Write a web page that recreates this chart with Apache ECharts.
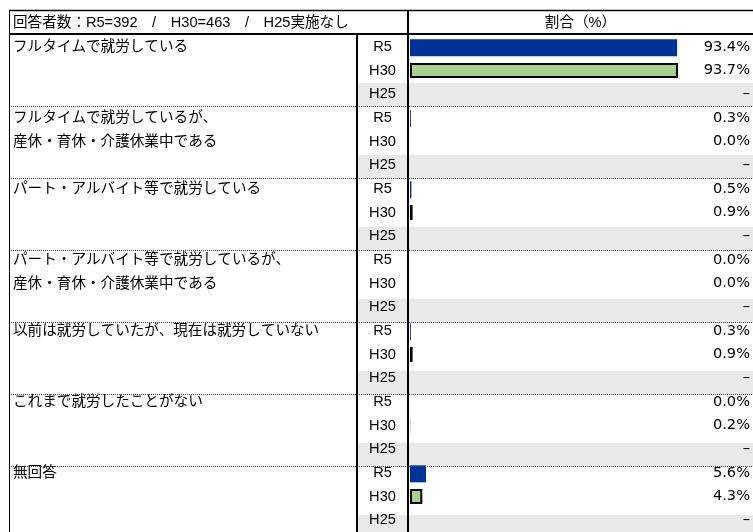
<!DOCTYPE html>
<html>
<head>
<meta charset="utf-8">
<script src="https://cdn.jsdelivr.net/npm/echarts@6/dist/echarts.min.js"></script>
<style>
html,body{margin:0;padding:0;background:#fff;}
#chart{width:753px;height:532px;}
</style>
</head>
<body>
<div id="chart"></div>
<script>
// ---- data ----
const groupLabels = [
  'フルタイムで就労している',
  'フルタイムで就労しているが、\n産休・育休・介護休業中である',
  'パート・アルバイト等で就労している',
  'パート・アルバイト等で就労しているが、\n産休・育休・介護休業中である',
  '以前は就労していたが、現在は就労していない',
  'これまで就労したことがない',
  '無回答'
];
const yearLabels = ['R5', 'H30', 'H25'];
const r5Values  = [93.4, 0.3, 0.5, 0.0, 0.3, 0.0, 5.6];
const h30Values = [93.7, 0.0, 0.9, 0.0, 0.9, 0.2, 4.3];
const h25Values = [null, null, null, null, null, null, null];
const headerLeftText = '回答者数：R5=392　/　H30=463　/　H25実施なし';
const headerRightText = '割合（%）';
const axisMax = 100;

// ---- layout (styling only) ----
const FONT = '"Liberation Sans", "Noto Sans CJK JP", sans-serif';
const PCT_FONT = '"DejaVu Sans", "Noto Sans CJK JP", sans-serif';
const FS = 14.6;
const W = 753, TOP = 35, ROW = 24, LEFT = 9, COL1 = 357, COL2 = 408, X0 = 410, BAR_W = 287;
const TEXT_LEFT = 13, PCT_RIGHT = 751;

const valuesByYear = {R5: r5Values, H30: h30Values, H25: h25Values};
const rowKeys = [], groupLineText = [], pctText = [];
groupLabels.forEach((g, gi) => {
  const lines = g.split('\n');
  yearLabels.forEach((y, yi) => {
    rowKeys.push(gi + '|' + y);
    groupLineText.push(lines[yi] || '');
    const v = valuesByYear[y][gi];
    pctText.push(v == null ? '–' : v.toFixed(1) + '%');
  });
});
const nRows = rowKeys.length;
const seriesData = (y, styleFn) => rowKeys.map(k => {
  const [gi, yy] = k.split('|');
  if (yy !== y) return '-';
  const v = valuesByYear[y][+gi];
  if (v == null) return '-';
  return styleFn ? {value: v, itemStyle: styleFn(v)} : v;
});

// ---- table decoration ----
const graphics = [];
groupLabels.forEach((g, gi) => {
  const y0 = TOP + gi * 3 * ROW;
  graphics.push({type: 'rect', z: 0, silent: true,
    shape: {x: COL1, y: y0 + 2 * ROW, width: W - COL1, height: ROW},
    style: {fill: '#e9e9e9'}});
  if (gi > 0) {
    graphics.push({type: 'line', z: 5, silent: true,
      shape: {x1: LEFT, y1: y0 - 0.5, x2: W, y2: y0 - 0.5},
      style: {stroke: '#444', lineWidth: 1, lineDash: [1, 1]}});
  }
});
graphics.push(
  {type: 'line', z: 6, silent: true, shape: {x1: LEFT, y1: 10.5, x2: W, y2: 10.5}, style: {stroke: '#000', lineWidth: 1.5}},
  {type: 'line', z: 6, silent: true, shape: {x1: LEFT, y1: TOP - 1, x2: W, y2: TOP - 1}, style: {stroke: '#000', lineWidth: 2}},
  {type: 'line', z: 6, silent: true, shape: {x1: LEFT + 0.5, y1: 10, x2: LEFT + 0.5, y2: 540}, style: {stroke: '#000', lineWidth: 1}},
  {type: 'line', z: 6, silent: true, shape: {x1: COL1, y1: TOP - 1, x2: COL1, y2: 540}, style: {stroke: '#000', lineWidth: 2}},
  {type: 'line', z: 6, silent: true, shape: {x1: COL2, y1: 10, x2: COL2, y2: 540}, style: {stroke: '#000', lineWidth: 2}},
  {type: 'text', z: 7, silent: true, style: {text: headerLeftText, x: TEXT_LEFT, y: 23, textVerticalAlign: 'middle', font: FS + 'px ' + FONT, fill: '#000'}},
  {type: 'text', z: 7, silent: true, style: {text: headerRightText, x: (COL2 + W) / 2, y: 23, textAlign: 'center', textVerticalAlign: 'middle', font: FS + 'px ' + FONT, fill: '#000'}}
);

const chart = echarts.init(document.getElementById('chart'), null, {renderer: 'canvas'});
const hiddenAxis = {axisLine: {show: false}, axisTick: {show: false}, splitLine: {show: false}};
chart.setOption({
  animation: false,
  backgroundColor: '#fff',
  textStyle: {fontFamily: FONT},
  grid: {left: X0, top: TOP, width: BAR_W, height: nRows * ROW, containLabel: false},
  xAxis: Object.assign({type: 'value', min: 0, max: axisMax, axisLabel: {show: false}}, hiddenAxis),
  yAxis: [
    Object.assign({type: 'category', data: rowKeys, inverse: true, position: 'left',
      axisLabel: {interval: 0, margin: X0 - (COL1 + COL2) / 2, align: 'center', fontSize: FS, color: '#000', fontFamily: FONT,
        formatter: v => v.split('|')[1]}}, hiddenAxis),
    Object.assign({type: 'category', data: rowKeys, inverse: true, position: 'left', offset: 0,
      axisLabel: {interval: 0, margin: X0 - TEXT_LEFT, align: 'left', fontSize: FS, color: '#000', fontFamily: FONT,
        formatter: (v, i) => groupLineText[i]}}, hiddenAxis),
    Object.assign({type: 'category', data: rowKeys, inverse: true, position: 'right',
      axisLabel: {interval: 0, margin: PCT_RIGHT - (X0 + BAR_W), align: 'right', fontSize: FS, color: '#000', fontFamily: PCT_FONT,
        formatter: (v, i) => pctText[i]}}, hiddenAxis)
  ],
  series: [
    {name: 'R5', type: 'bar', yAxisIndex: 0, data: seriesData('R5'), barWidth: 17, barGap: '-100%',
      itemStyle: {color: '#003399'}, z: 3},
    {name: 'H30', type: 'bar', yAxisIndex: 0,
      data: seriesData('H30', v => ({borderWidth: v < 0.5 ? 0 : 2})),
      barWidth: 15, barGap: '-100%',
      itemStyle: {color: '#a9d18e', borderColor: '#000', borderWidth: 2}, z: 3}
  ],
  graphic: graphics
});
</script>
</body>
</html>
